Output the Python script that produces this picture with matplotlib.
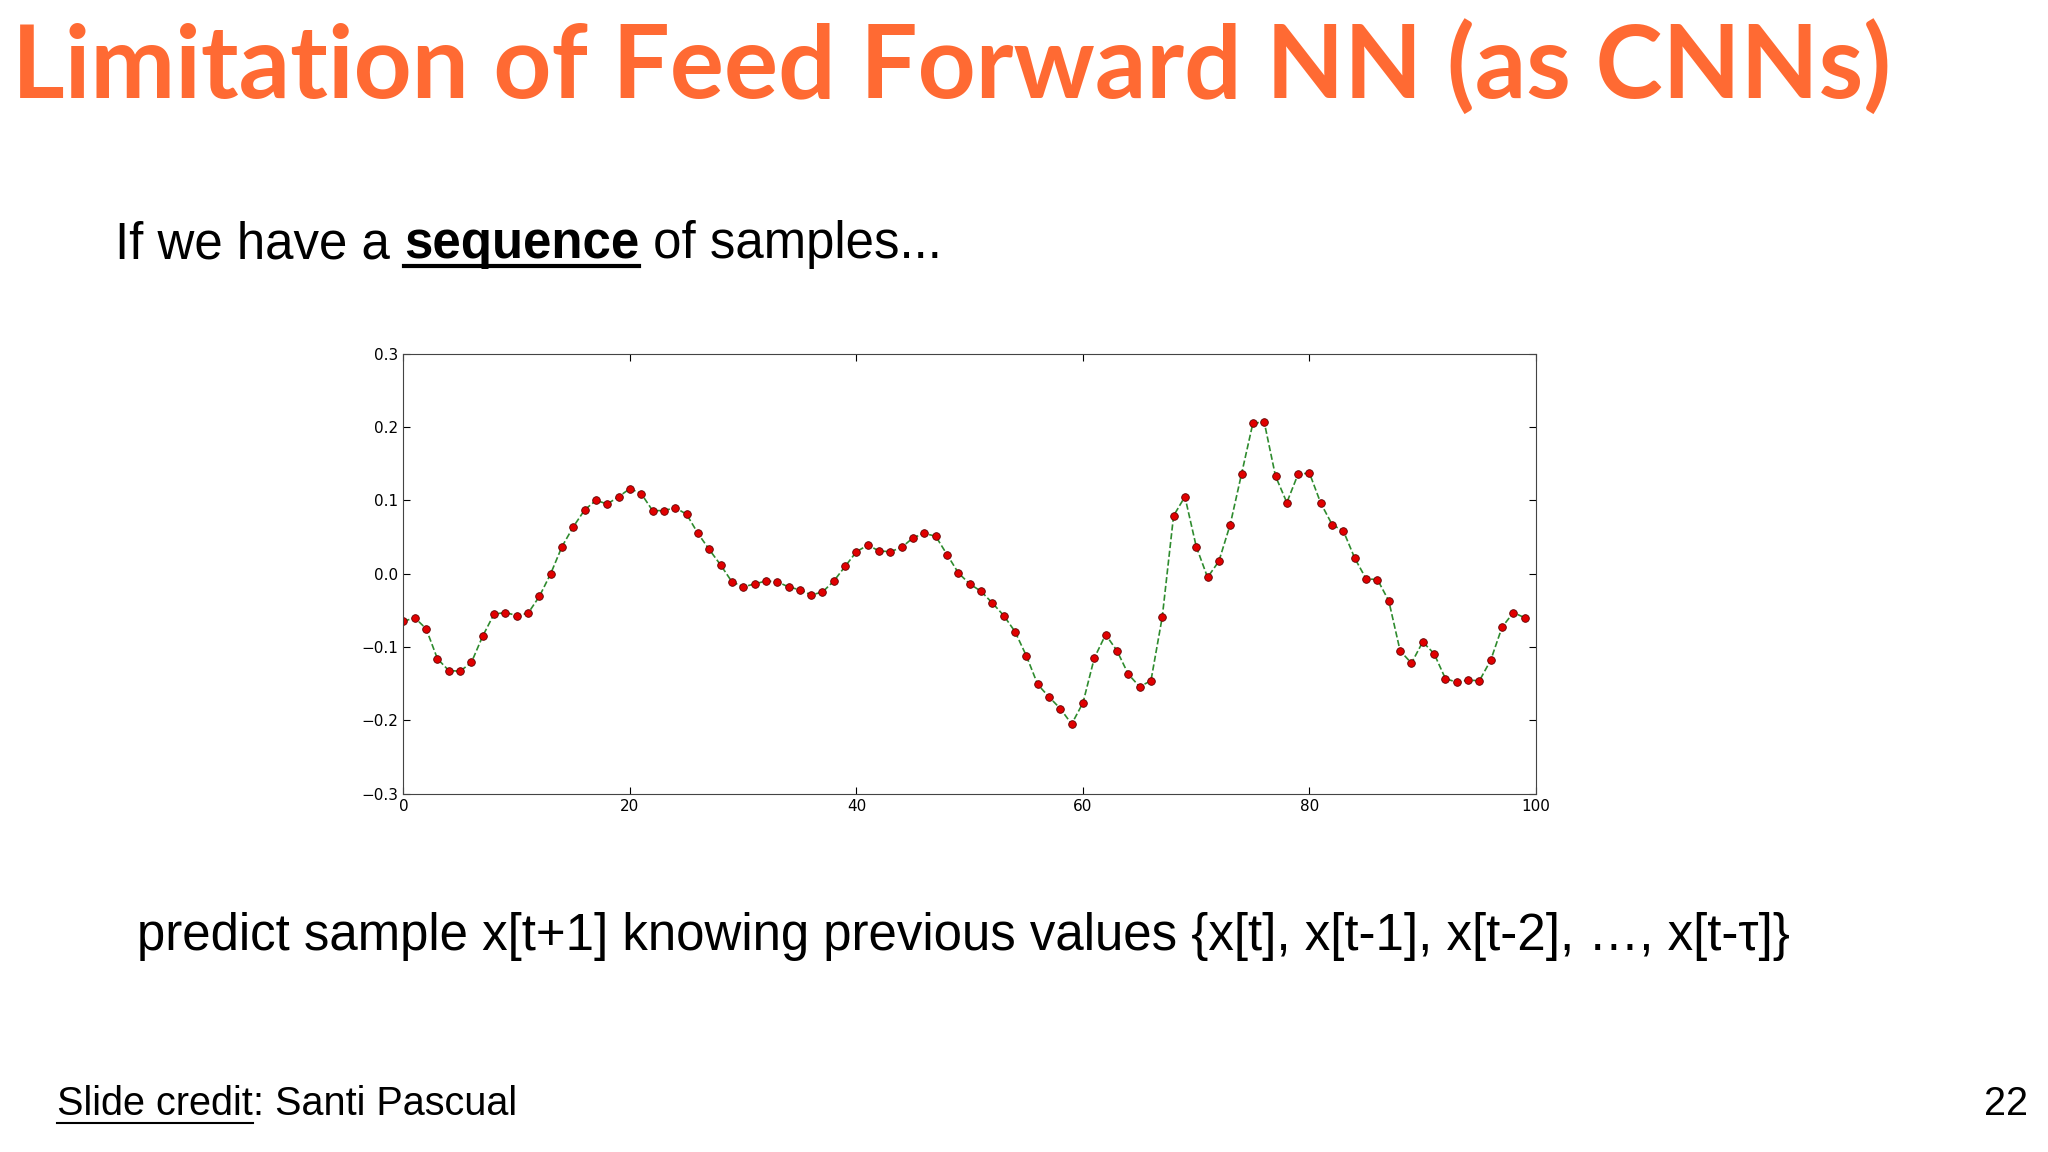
import numpy as np
import matplotlib.pyplot as plt

# sample sequence
t = np.arange(100)
x_vals = [
    -0.065, -0.060, -0.075, -0.116, -0.132, -0.133, -0.121, -0.085, -0.055, -0.053,
    -0.057, -0.054, -0.031, 0.000, 0.037, 0.064, 0.087, 0.100, 0.095, 0.105,
    0.116, 0.109, 0.086, 0.086, 0.090, 0.081, 0.055, 0.033, 0.012, -0.011,
    -0.018, -0.014, -0.010, -0.011, -0.018, -0.022, -0.029, -0.025, -0.010, 0.010,
    0.030, 0.039, 0.031, 0.030, 0.036, 0.049, 0.055, 0.051, 0.026, 0.001,
    -0.014, -0.024, -0.040, -0.057, -0.079, -0.112, -0.151, -0.168, -0.184, -0.205,
    -0.176, -0.115, -0.083, -0.105, -0.137, -0.154, -0.146, -0.059, 0.079, 0.105,
    0.037, -0.005, 0.017, 0.067, 0.136, 0.205, 0.207, 0.133, 0.097, 0.136,
    0.137, 0.096, 0.067, 0.058, 0.021, -0.007, -0.008, -0.037, -0.105, -0.122,
    -0.093, -0.109, -0.143, -0.148, -0.145, -0.146, -0.118, -0.073, -0.053, -0.060,
]
x_ticks = [0, 20, 40, 60, 80, 100]
y_ticks = [-0.3, -0.2, -0.1, 0.0, 0.1, 0.2, 0.3]
y_ticklabels = ["\u22120.3", "\u22120.2", "\u22120.1", "0.0", "0.1", "0.2", "0.3"]

fig = plt.figure(figsize=(20.48, 11.52), dpi=100)
fig.patch.set_facecolor("white")

fig.text(0.006, 0.915, "Limitation of Feed Forward NN (as CNNs)", family="Lato",
         weight="bold", fontsize=73, color="#FF6A33", va="baseline")

renderer = fig.canvas.get_renderer()


def run_text(x, y, parts, size):
    """Place consecutive text pieces on one baseline; parts = (text, bold, underline)."""
    for s, bold, under in parts:
        txt = fig.text(x, y, s, family="Liberation Sans", fontsize=size,
                       weight="bold" if bold else "normal", va="baseline")
        bb = txt.get_window_extent(renderer).transformed(fig.transFigure.inverted())
        if under:
            fig.add_artist(plt.Line2D([x, bb.x1], [y - 0.007, y - 0.007],
                                      color="black", lw=3 if bold else 1.5))
        x = bb.x1


run_text(0.056, 0.776, [("If we have a ", False, False), ("sequence", True, True),
                        (" of samples...", False, False)], 36.7)
run_text(0.067, 0.175, [("predict sample x[t+1] knowing previous values "
                         "{x[t], x[t-1], x[t-2], \u2026, x[t-\u03c4]}", False, False)], 36.7)
run_text(0.028, 0.032, [("Slide credit", False, True), (": Santi Pascual", False, False)], 28.5)
fig.text(0.99, 0.032, "22", family="Liberation Sans", fontsize=28.5, ha="right", va="baseline")

ax = fig.add_axes([0.197, 0.311, 0.553, 0.382])
ax.plot(t, x_vals, linestyle="--", color="#2e8b2e", lw=1.2, marker="o",
        markersize=5.5, markerfacecolor="#e00000", markeredgecolor="#600000",
        markeredgewidth=0.6)
ax.set_xlim(0, 100)
ax.set_ylim(-0.3, 0.3)
ax.set_xticks(x_ticks)
ax.set_yticks(y_ticks)
ax.set_yticklabels(y_ticklabels)
ax.tick_params(direction="in", top=True, right=True, labelsize=11, length=5)
for sp in ax.spines.values():
    sp.set_color("#444444")

fig.savefig("out.png", dpi=100)
